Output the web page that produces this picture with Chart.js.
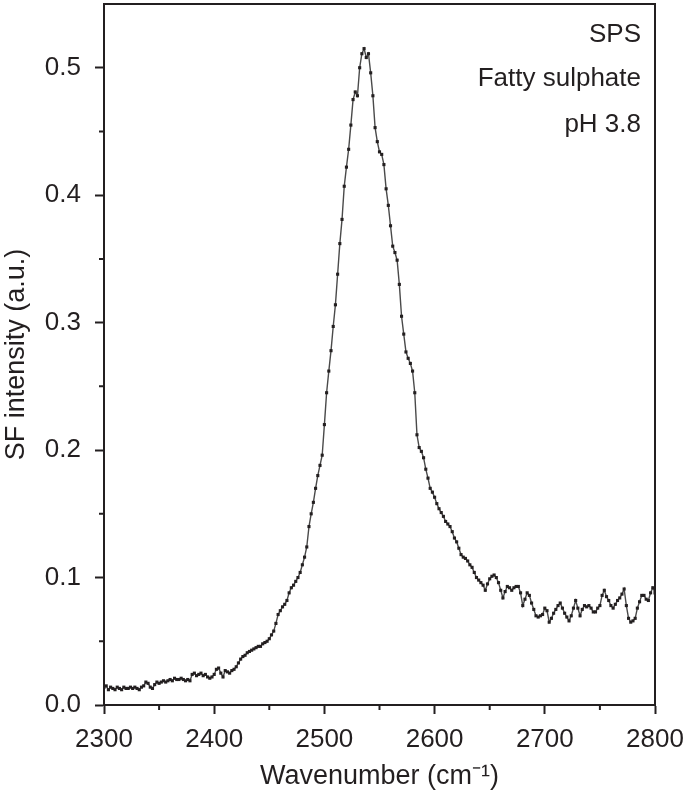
<!DOCTYPE html>
<html>
<head>
<meta charset="utf-8">
<script src="https://cdn.jsdelivr.net/npm/chart.js@4.4.1/dist/chart.umd.min.js"></script>
<style>
html,body{margin:0;padding:0;background:#fff;}
#wrap{position:relative;width:685px;height:796px;}
</style>
</head>
<body>
<div id="wrap"><canvas id="c"></canvas></div>
<script>
const wavenumbers = [
2300,2302,2304,2306,2308,2310,2312,2314,2316,2318,2320,2322,2324,2326,2328,2330,2332,2334,2336,2338,
2340,2342,2344,2346,2348,2350,2352,2354,2356,2358,2360,2362,2364,2366,2368,2370,2372,2374,2376,2378,
2380,2382,2384,2386,2388,2390,2392,2394,2396,2398,2400,2402,2404,2406,2408,2410,2412,2414,2416,2418,
2420,2422,2424,2426,2428,2430,2432,2434,2436,2438,2440,2442,2444,2446,2448,2450,2452,2454,2456,2458,
2460,2462,2464,2466,2468,2470,2472,2474,2476,2478,2480,2482,2484,2486,2488,2490,2492,2494,2496,2498,
2500,2502,2504,2506,2508,2510,2512,2514,2516,2518,2520,2522,2524,2526,2528,2530,2532,2534,2536,2538,
2540,2542,2544,2546,2548,2550,2552,2554,2556,2558,2560,2562,2564,2566,2568,2570,2572,2574,2576,2578,
2580,2582,2584,2586,2588,2590,2592,2594,2596,2598,2600,2602,2604,2606,2608,2610,2612,2614,2616,2618,
2620,2622,2624,2626,2628,2630,2632,2634,2636,2638,2640,2642,2644,2646,2648,2650,2652,2654,2656,2658,
2660,2662,2664,2666,2668,2670,2672,2674,2676,2678,2680,2682,2684,2686,2688,2690,2692,2694,2696,2698,
2700,2702,2704,2706,2708,2710,2712,2714,2716,2718,2720,2722,2724,2726,2728,2730,2732,2734,2736,2738,
2740,2742,2744,2746,2748,2750,2752,2754,2756,2758,2760,2762,2764,2766,2768,2770,2772,2774,2776,2778,
2780,2782,2784,2786,2788,2790,2792,2794,2796,2798,2800
];
const sfIntensity = [
0.014,0.015,0.012,0.014,0.013,0.012,0.014,0.013,0.012,0.014,0.013,0.013,0.014,0.013,0.014,0.013,0.012,0.014,0.015,0.018,
0.017,0.014,0.013,0.016,0.018,0.017,0.018,0.019,0.018,0.019,0.020,0.019,0.021,0.020,0.020,0.021,0.020,0.019,0.020,0.019,
0.024,0.025,0.023,0.024,0.025,0.023,0.024,0.022,0.021,0.022,0.024,0.028,0.029,0.025,0.022,0.027,0.026,0.025,0.027,0.028,
0.030,0.033,0.036,0.038,0.039,0.041,0.042,0.043,0.044,0.045,0.046,0.046,0.048,0.049,0.050,0.052,0.055,0.058,0.064,0.071,
0.074,0.077,0.079,0.082,0.088,0.092,0.094,0.097,0.100,0.104,0.110,0.116,0.124,0.140,0.150,0.159,0.170,0.180,0.188,0.196,
0.220,0.245,0.262,0.278,0.297,0.314,0.338,0.362,0.381,0.407,0.422,0.436,0.455,0.475,0.481,0.478,0.500,0.511,0.515,0.508,
0.511,0.496,0.478,0.453,0.442,0.434,0.432,0.424,0.405,0.392,0.376,0.360,0.355,0.349,0.330,0.305,0.291,0.277,0.272,0.268,
0.262,0.245,0.212,0.202,0.199,0.194,0.185,0.178,0.170,0.167,0.163,0.158,0.154,0.151,0.148,0.144,0.142,0.140,0.136,0.131,
0.128,0.123,0.118,0.116,0.115,0.113,0.110,0.108,0.104,0.100,0.098,0.096,0.094,0.090,0.095,0.099,0.101,0.102,0.100,0.096,
0.090,0.084,0.089,0.093,0.092,0.090,0.092,0.093,0.093,0.088,0.078,0.083,0.088,0.086,0.080,0.075,0.070,0.069,0.070,0.071,
0.076,0.074,0.065,0.068,0.072,0.075,0.078,0.080,0.076,0.072,0.069,0.066,0.070,0.076,0.082,0.076,0.070,0.075,0.078,0.077,
0.078,0.076,0.073,0.073,0.076,0.078,0.086,0.090,0.085,0.082,0.078,0.076,0.079,0.082,0.084,0.087,0.091,0.078,0.068,0.065,
0.066,0.068,0.076,0.081,0.086,0.086,0.083,0.082,0.088,0.092,0.088
];
const xMajorTicks = [2300,2400,2500,2600,2700,2800];
const xMinorTicks = [2350,2450,2550,2650,2750];
const yMajorTicks = [0.0,0.1,0.2,0.3,0.4,0.5];
const yMinorTicks = [0.05,0.15,0.25,0.35,0.45];
const annotations = ["SPS","Fatty sulphate","pH 3.8"];
const xTitle = "Wavenumber (cm\u207B\u00B9)";
const yTitle = "SF intensity (a.u.)";

const INK = '#231f20';
const FAMILY = "'Liberation Sans', Arial, Helvetica, sans-serif";
Chart.defaults.font.family = FAMILY;
Chart.defaults.font.size = 26;
Chart.defaults.color = INK;

const points = wavenumbers.map((w,i)=>({x:w,y:sfIntensity[i]}));

const framePlugin = {
  id:'frame',
  afterDraw(chart){
    const {ctx, chartArea:a, scales} = chart;
    ctx.save();
    ctx.strokeStyle = INK;
    ctx.lineWidth = 2;
    ctx.strokeRect(a.left, a.top, a.right-a.left, a.bottom-a.top);
    ctx.beginPath();
    xMinorTicks.forEach(v=>{
      const px = scales.x.getPixelForValue(v);
      ctx.moveTo(px, a.bottom); ctx.lineTo(px, a.bottom+5);
    });
    yMinorTicks.forEach(v=>{
      const py = scales.y.getPixelForValue(v);
      ctx.moveTo(a.left, py); ctx.lineTo(a.left-5, py);
    });
    ctx.stroke();
    ctx.fillStyle = INK;
    ctx.font = "26px " + FAMILY;
    ctx.textAlign = 'right';
    ctx.textBaseline = 'alphabetic';
    const ys = [42,86,132];
    annotations.forEach((t,i)=>ctx.fillText(t, a.right-14, ys[i]));
    ctx.restore();
  }
};

new Chart(document.getElementById('c'), {
  type:'line',
  data:{datasets:[{
    data:points,
    borderColor:'#4a4a4a',
    borderWidth:1.4,
    pointStyle:'rect',
    pointRadius:2.2,
    pointBackgroundColor:INK,
    pointBorderColor:INK,
    pointBorderWidth:0,
    tension:0,
    fill:false
  }]},
  options:{
    responsive:true,
    maintainAspectRatio:false,
    animation:false,
    events:[],
    layout:{padding:{top:1,right:30,left:0,bottom:0}},
    plugins:{legend:{display:false},tooltip:{enabled:false}},
    scales:{
      x:{
        type:'linear',
        min:2300,max:2800,
        afterFit(s){ s.height = 91; s.paddingLeft = 0; s.paddingRight = 0; },
        afterBuildTicks(s){ s.ticks = xMajorTicks.map(v=>({value:v})); },
        ticks:{padding:10,maxRotation:0,callback:v=>String(v),color:INK,font:{size:26}},
        grid:{drawOnChartArea:false,drawTicks:true,tickLength:9,tickWidth:2,tickColor:INK},
        border:{display:true,color:INK,width:2},
        title:{display:true,text:xTitle,color:INK,font:{size:27},padding:{top:0,bottom:3}}
      },
      y:{
        type:'linear',
        min:0,max:0.55,
        afterFit(s){ s.width = 104; s.paddingTop = 0; s.paddingBottom = 0; },
        afterBuildTicks(s){ s.ticks = yMajorTicks.map(v=>({value:v})); },
        ticks:{padding:14,callback:v=>v.toFixed(1),color:INK,font:{size:26}},
        grid:{drawOnChartArea:false,drawTicks:true,tickLength:9,tickWidth:2,tickColor:INK},
        border:{display:true,color:INK,width:2},
        title:{display:true,text:yTitle,color:INK,font:{size:27},padding:{top:0,bottom:0}}
      }
    }
  },
  plugins:[framePlugin]
});
</script>
</body>
</html>
